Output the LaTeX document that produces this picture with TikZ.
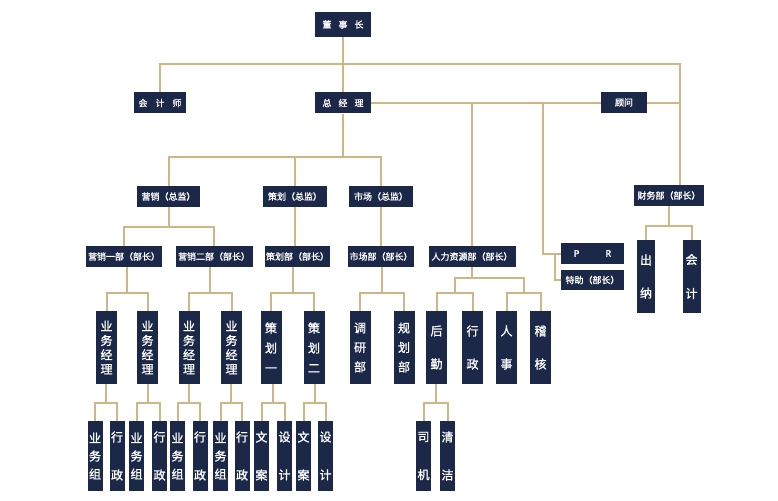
\documentclass[tikz,border=0pt]{standalone}
\usepackage{fontspec}
\newfontfamily\cjk[AutoFakeBold=1.2]{Noto Sans CJK SC}
\usetikzlibrary{calc,backgrounds}
\definecolor{boxblue}{RGB}{28,40,72}
\definecolor{linetan}{RGB}{208,182,132}
\tikzset{
  box/.style={fill=boxblue, text=white, inner sep=0pt, minimum height=21pt,
    font=\cjk\bfseries\fontsize{9pt}{11pt}\selectfont},
  col/.style={box, minimum width=21pt, minimum height=73pt, align=center,
    font=\cjk\bfseries\fontsize{12pt}{#1}\selectfont},
  leaf/.style={col=#1, minimum width=15pt, minimum height=70pt},
  link/.style={draw=linetan, line width=2pt},
}
% parent, left child, right child, drop
\newcommand\branchto[4]{%
  \draw[link] (#2.north) -- ++(0,-#4) -| (#3.north);
  \coordinate (mid) at ($(#2.north)!.5!(#3.north)+(0,-#4)$);
  \draw[link] (mid) -- (mid |- #1.south);
}
\begin{document}
\begin{tikzpicture}[x=1pt,y=-1pt]
\node[box, minimum width=56pt, minimum height=25pt] (dsz) at (343,24.5) {董\hspace{7pt}事\hspace{7pt}长};
\node[box, minimum width=52pt] (kjs) at (160,103) {会\hspace{8pt}计\hspace{8pt}师};
\node[box, minimum width=56pt] (zjl) at (343,103) {总\hspace{7pt}经\hspace{7pt}理};
\node[box, minimum width=46pt] (gw) at (624,102.5) {顾问};

\node[box, minimum width=63pt] (yxzj) at (168.5,196.5) {营销（总监）};
\node[box, minimum width=64pt] (chzj) at (295,196.5) {策划（总监）};
\node[box, minimum width=64pt] (sczj) at (381,196.5) {市场（总监）};
\node[box, minimum width=70pt] (cwb) at (669,195.5) {财务部（部长）};

\node[box, minimum width=76pt] (yx1) at (124,256.5) {营销一部（部长）};
\node[box, minimum width=77pt] (yx2) at (214,256.5) {营销二部（部长）};
\node[box, minimum width=65pt] (chb) at (297.5,256.5) {策划部（部长）};
\node[box, minimum width=66pt] (scb) at (381,256.5) {市场部（部长）};
\node[box, minimum width=87pt] (rlzy) at (472,256.5) {人力资源部（部长）};
\node[box, minimum width=63pt] (pr) at (592.5,253.5) {P\hspace{26pt}R};
\node[box, minimum width=63pt, minimum height=20pt] (tz) at (592.5,280) {特助（部长）};
\node[col=33pt, minimum width=18pt] (cn) at (646,276.5) {出\\纳};
\node[col=34pt, minimum width=18pt] (kj) at (691.5,276.5) {会\\计};

\node[col=14.3pt] (jl1) at (106.5,347.5) {业\\务\\经\\理};
\node[col=14.3pt] (jl2) at (147.5,347.5) {业\\务\\经\\理};
\node[col=14.3pt] (jl3) at (189,347.5) {业\\务\\经\\理};
\node[col=14.3pt] (jl4) at (231.5,347.5) {业\\务\\经\\理};
\node[col=20pt] (ch1) at (271,347.5) {策\\划\\一};
\node[col=20pt] (ch2) at (314,347.5) {策\\划\\二};
\node[col=19.5pt] (dy) at (360,347.5) {调\\研\\部};
\node[col=19.5pt] (gh) at (404,347.5) {规\\划\\部};
\node[col=33pt] (hq) at (436.5,347.5) {后\\勤};
\node[col=33pt] (xz) at (472.5,347.5) {行\\政};
\node[col=33pt] (rs) at (506.5,347.5) {人\\事};
\node[col=33pt] (jh) at (540.5,347.5) {稽\\核};

\node[leaf=18pt] (g1) at (95,456) {业\\务\\组};
\node[leaf=38pt] (g2) at (117,456) {行\\政};
\node[leaf=18pt] (g3) at (136.5,456) {业\\务\\组};
\node[leaf=38pt] (g4) at (159.5,456) {行\\政};
\node[leaf=18pt] (g5) at (177.5,456) {业\\务\\组};
\node[leaf=38pt] (g6) at (200,456) {行\\政};
\node[leaf=18pt] (g7) at (220.5,456) {业\\务\\组};
\node[leaf=38pt] (g8) at (242,456) {行\\政};
\node[leaf=38pt] (wa1) at (261.5,456) {文\\案};
\node[leaf=38pt] (sj1) at (284.5,456) {设\\计};
\node[leaf=38pt] (wa2) at (303.5,456) {文\\案};
\node[leaf=38pt] (sj2) at (325.5,456) {设\\计};
\node[leaf=38pt] (sij) at (423.5,456) {司\\机};
\node[leaf=38pt] (qj) at (447.5,456) {清\\洁};

\begin{scope}[on background layer]
\fill[white] (0,0) rectangle (778,500);
\coordinate (cwbin) at ([xshift=11pt]cwb.north);
\draw[link] (dsz.south) -- (zjl.north);
\draw[link] (kjs.north) -- ++(0,-28) -| (cwbin);
\draw[link] (zjl.east) -- (cwbin |- zjl.east);
\draw[link] (zjl.east -| rlzy.north) -- (rlzy.north);
\draw[link] ([xshift=-18pt]pr.west |- zjl.east) |- (pr.west);
\draw[link] ([xshift=-6pt]pr.west) |- (tz.west);
\draw[link] (zjl.south) -- ++(0,44);
\draw[link] (yxzj.north) -- ++(0,-29) -| (sczj.north);
\draw[link] (chzj.north) -- ++(0,-29);
\draw[link] (chzj.south) -- (chzj.south |- chb.north);
\draw[link] (sczj.south) -- (scb.north);
\branchto{yxzj}{yx1}{yx2}{19}
\branchto{cwb}{cn}{kj}{14}
\branchto{yx1}{jl1}{jl2}{18}
\branchto{yx2}{jl3}{jl4}{18}
\branchto{chb}{ch1}{ch2}{18}
\branchto{scb}{dy}{gh}{18}
\branchto{jl1}{g1}{g2}{18}
\branchto{jl2}{g3}{g4}{18}
\branchto{jl3}{g5}{g6}{18}
\branchto{jl4}{g7}{g8}{18}
\branchto{ch1}{wa1}{sj1}{18}
\branchto{ch2}{wa2}{sj2}{18}
\branchto{hq}{sij}{qj}{18}
% human resources
\draw[link] (hq.north) -- ++(0,-18) -| (xz.north);
\draw[link] (rs.north) -- ++(0,-18) -| (jh.north);
\coordinate (m1) at ($(hq.north)!.5!(xz.north)+(0,-18)$);
\coordinate (m2) at ($(rs.north)!.5!(jh.north)+(0,-18)$);
\draw[link] (m1) -- ++(0,-15) -| (m2);
\draw[link] (rlzy.south) -- ++(0,11);
\end{scope}
\end{tikzpicture}
\end{document}
